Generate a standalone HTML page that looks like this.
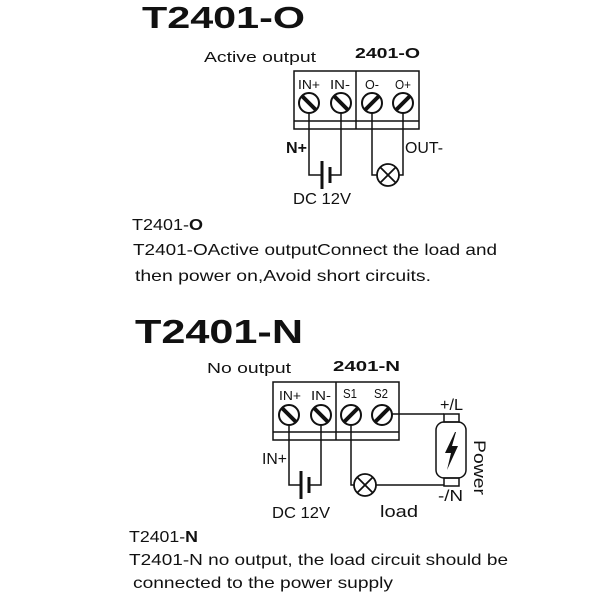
<!DOCTYPE html>
<html><head><meta charset="utf-8"><style>html,body{margin:0;padding:0;background:#fff}svg{display:block}</style></head>
<body>
<svg width="600" height="600" viewBox="0 0 600 600" xmlns="http://www.w3.org/2000/svg" font-family="Liberation Sans, DejaVu Sans, sans-serif" fill="#111">
<defs>
<g id="screwR"><circle r="10" fill="#fff" stroke="#111" stroke-width="2"/><line x1="-7" y1="-7" x2="7" y2="7" stroke="#111" stroke-width="4"/></g>
<g id="screwL"><circle r="10" fill="#fff" stroke="#111" stroke-width="2"/><line x1="7" y1="-7" x2="-7" y2="7" stroke="#111" stroke-width="4"/></g>
<g id="lamp"><circle r="11" fill="#fff" stroke="#111" stroke-width="1.8"/><line x1="-7.5" y1="-7.5" x2="7.5" y2="7.5" stroke="#111" stroke-width="1.8"/><line x1="7.5" y1="-7.5" x2="-7.5" y2="7.5" stroke="#111" stroke-width="1.8"/></g>
</defs>

<!-- TOP -->
<text x="142" y="28" font-size="31" font-weight="bold" textLength="163" lengthAdjust="spacingAndGlyphs">T2401-O</text>
<text x="204" y="62" font-size="15" textLength="112" lengthAdjust="spacingAndGlyphs">Active output</text>
<text x="355" y="58" font-size="15" font-weight="bold" textLength="65" lengthAdjust="spacingAndGlyphs">2401-O</text>
<g fill="none" stroke="#111" stroke-width="1.5">
<rect x="294" y="71" width="125" height="58"/>
<line x1="356" y1="71" x2="356" y2="129"/>
<line x1="294" y1="121" x2="419" y2="121"/>
<path d="M309 103 V175 H322"/>
<path d="M341 103 V175 H330"/>
<path d="M372 103 V175 H377"/>
<path d="M403 103 V175 H399"/>
</g>
<line x1="322" y1="161" x2="322" y2="189" stroke="#111" stroke-width="3"/>
<line x1="330" y1="167" x2="330" y2="183" stroke="#111" stroke-width="3"/>
<text x="298" y="89" font-size="13" textLength="22" lengthAdjust="spacingAndGlyphs">IN+</text>
<text x="330" y="89" font-size="13" textLength="20" lengthAdjust="spacingAndGlyphs">IN-</text>
<text x="365" y="89" font-size="13" textLength="14" lengthAdjust="spacingAndGlyphs">O-</text>
<text x="395" y="89" font-size="13" textLength="16" lengthAdjust="spacingAndGlyphs">O+</text>
<use href="#screwR" x="309" y="103"/><use href="#screwR" x="341" y="103"/>
<use href="#screwL" x="372" y="103"/><use href="#screwL" x="403" y="103"/>
<use href="#lamp" x="388" y="175"/>
<text x="286" y="153" font-size="16" font-weight="bold" textLength="21" lengthAdjust="spacingAndGlyphs">N+</text>
<text x="405" y="153" font-size="16" textLength="38" lengthAdjust="spacingAndGlyphs">OUT-</text>
<text x="293" y="204" font-size="16" textLength="58" lengthAdjust="spacingAndGlyphs">DC 12V</text>
<text x="132" y="230" font-size="16" textLength="71" lengthAdjust="spacingAndGlyphs">T2401-<tspan font-weight="bold">O</tspan></text>
<text x="133" y="255" font-size="16" textLength="364" lengthAdjust="spacingAndGlyphs">T2401-OActive outputConnect the load and</text>
<text x="135" y="281" font-size="16" textLength="296" lengthAdjust="spacingAndGlyphs">then power on,Avoid short circuits.</text>

<!-- BOTTOM -->
<text x="135" y="343" font-size="33" font-weight="bold" textLength="168" lengthAdjust="spacingAndGlyphs">T2401-N</text>
<text x="207" y="373" font-size="15" textLength="84" lengthAdjust="spacingAndGlyphs">No output</text>
<text x="333" y="371" font-size="15" font-weight="bold" textLength="67" lengthAdjust="spacingAndGlyphs">2401-N</text>
<g fill="none" stroke="#111" stroke-width="1.5">
<rect x="273" y="382" width="126" height="58"/>
<line x1="336" y1="382" x2="336" y2="440"/>
<line x1="273" y1="432" x2="399" y2="432"/>
<path d="M289 415 V485 H301"/>
<path d="M321 415 V485 H309"/>
<path d="M351 415 V485 H354"/>
<path d="M376 485 H444"/>
<path d="M392 414 H444"/>
<rect x="436" y="422" width="30" height="56" rx="8"/>
<rect x="444" y="414" width="15" height="8"/>
<rect x="444" y="478" width="15" height="8"/>
</g>
<path d="M455 432 L445 453 L451 453 L447 470 L458 446 L452 446 L456 432 Z" fill="#111"/>
<line x1="301" y1="471" x2="301" y2="499" stroke="#111" stroke-width="3"/>
<line x1="309" y1="477" x2="309" y2="493" stroke="#111" stroke-width="3"/>
<text x="279" y="400" font-size="13" textLength="22" lengthAdjust="spacingAndGlyphs">IN+</text>
<text x="311" y="400" font-size="13" textLength="20" lengthAdjust="spacingAndGlyphs">IN-</text>
<text x="343" y="398" font-size="13" textLength="14" lengthAdjust="spacingAndGlyphs">S1</text>
<text x="374" y="398" font-size="13" textLength="14" lengthAdjust="spacingAndGlyphs">S2</text>
<use href="#screwR" x="289" y="415"/><use href="#screwR" x="321" y="415"/>
<use href="#screwL" x="351" y="415"/><use href="#screwL" x="382" y="415"/>
<use href="#lamp" x="365" y="485"/>
<text x="262" y="464" font-size="16" textLength="25" lengthAdjust="spacingAndGlyphs">IN+</text>
<text x="272" y="518" font-size="16" textLength="58" lengthAdjust="spacingAndGlyphs">DC 12V</text>
<text x="380" y="517" font-size="17" textLength="38" lengthAdjust="spacingAndGlyphs">load</text>
<text x="440" y="410" font-size="16" textLength="23" lengthAdjust="spacingAndGlyphs">+/L</text>
<text x="438" y="501" font-size="16" textLength="25" lengthAdjust="spacingAndGlyphs">-/N</text>
<text transform="translate(474,440) rotate(90)" font-size="17" textLength="55" lengthAdjust="spacingAndGlyphs">Power</text>
<text x="129" y="542" font-size="16" textLength="69" lengthAdjust="spacingAndGlyphs">T2401-<tspan font-weight="bold">N</tspan></text>
<text x="129" y="565" font-size="16" textLength="379" lengthAdjust="spacingAndGlyphs">T2401-N no output, the load circuit should be</text>
<text x="133" y="588" font-size="16" textLength="260" lengthAdjust="spacingAndGlyphs">connected to the power supply</text>
</svg>
</body></html>
